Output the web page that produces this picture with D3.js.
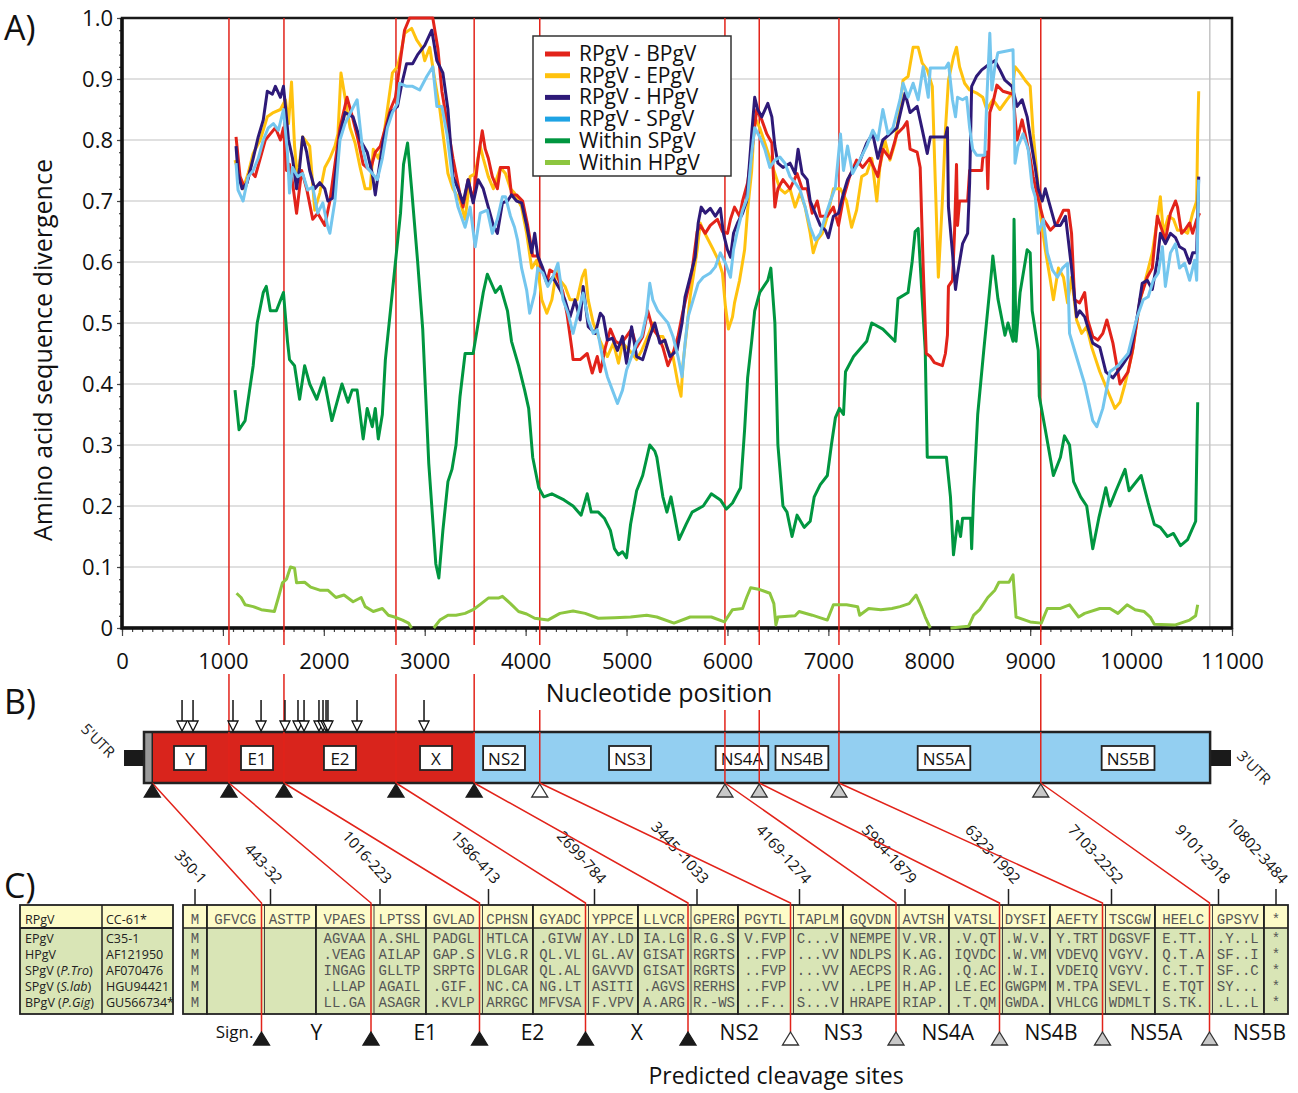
<!DOCTYPE html>
<html>
<head>
<meta charset="utf-8">
<script src="https://cdn.jsdelivr.net/npm/d3@7"></script>
<style>
  body { margin: 0; background: #fff; }
</style>
</head>
<body>
<svg id="fig" width="1298" height="1093" font-family='"Open Sans", "Noto Sans", sans-serif'></svg>
<script>
// ---------- panel A: sliding window divergence, [nucleotide, divergence] ----------
const rpgvBpgv = [[1130,.805],[1170,.74],[1220,.72],[1270,.75],[1320,.74],[1370,.77],[1420,.80],[1470,.81],[1520,.82],[1570,.80],[1600,.82],[1630,.75],[1660,.76],[1690,.73],[1730,.68],[1780,.75],[1830,.72],[1890,.67],[1940,.68],[2010,.66],[2060,.70],[2110,.76],[2160,.82],[2230,.87],[2280,.84],[2340,.80],[2390,.76],[2460,.75],[2510,.78],[2560,.79],[2610,.82],[2660,.85],[2710,.87],[2750,.92],[2800,.98],[2850,1.0],[3080,1.0],[3130,.95],[3170,.88],[3220,.83],[3280,.77],[3350,.71],[3380,.69],[3430,.735],[3480,.70],[3530,.77],[3570,.815],[3600,.785],[3630,.77],[3670,.74],[3720,.72],[3750,.755],[3830,.755],[3860,.71],[3910,.71],[3970,.70],[4020,.66],[4070,.61],[4120,.61],[4160,.59],[4210,.565],[4240,.587],[4310,.58],[4370,.55],[4410,.515],[4460,.455],[4470,.44],[4540,.44],[4610,.45],[4660,.418],[4710,.445],[4740,.42],[4790,.46],[4840,.49],[4890,.47],[4940,.465],[5000,.478],[5050,.49],[5100,.46],[5160,.478],[5210,.52],[5260,.49],[5310,.48],[5360,.46],[5410,.43],[5460,.45],[5510,.478],[5560,.52],[5610,.555],[5650,.587],[5700,.65],[5730,.66],[5780,.647],[5830,.66],[5900,.67],[5950,.65],[6000,.647],[6030,.67],[6070,.69],[6120,.675],[6150,.70],[6200,.73],[6240,.78],[6290,.85],[6340,.833],[6390,.81],[6440,.795],[6470,.69],[6500,.72],[6550,.735],[6620,.72],[6690,.745],[6740,.72],[6790,.72],[6840,.68],[6890,.70],[6920,.675],[6990,.675],[7050,.69],[7100,.66],[7150,.705],[7210,.74],[7280,.767],[7340,.755],[7410,.77],[7490,.74],[7540,.785],[7610,.77],[7680,.81],[7740,.82],[7780,.83],[7810,.785],[7880,.78],[7910,.755],[7940,.59],[7970,.45],[8010,.445],[8050,.435],[8130,.43],[8160,.45],[8180,.48],[8190,.56],[8230,.57],[8250,.647],[8270,.76],[8280,.66],[8300,.70],[8380,.70],[8400,.75],[8520,.75],[8530,.77],[8570,.78],[8580,.72],[8600,.845],[8630,.86],[8670,.89],[8730,.88],[8830,.875],[8870,.80],[8920,.833],[8950,.81],[9000,.77],[9030,.74],[9070,.71],[9100,.69],[9130,.67],[9170,.66],[9200,.652],[9270,.664],[9330,.685],[9380,.685],[9410,.647],[9440,.538],[9490,.533],[9540,.55],[9570,.505],[9620,.478],[9670,.472],[9720,.483],[9760,.505],[9820,.467],[9890,.40],[9970,.42],[10020,.46],[10090,.54],[10160,.575],[10210,.59],[10260,.675],[10290,.66],[10340,.636],[10390,.68],[10440,.70],[10460,.69],[10500,.647],[10530,.652],[10580,.664],[10610,.647],[10650,.67],[10680,.68]];

const rpgvEpgv = [[1120,.767],[1150,.75],[1200,.72],[1250,.745],[1300,.778],[1370,.80],[1440,.838],[1500,.845],[1570,.85],[1620,.866],[1650,.827],[1680,.895],[1710,.79],[1740,.735],[1790,.805],[1860,.79],[1910,.685],[1960,.713],[2010,.755],[2060,.77],[2110,.79],[2140,.81],[2170,.91],[2210,.87],[2260,.82],[2310,.795],[2360,.755],[2410,.72],[2460,.72],[2490,.785],[2540,.77],[2580,.79],[2630,.85],[2680,.91],[2730,.92],[2770,.948],[2800,.975],[2870,.983],[2920,.964],[2970,.952],[3000,.93],[3050,.952],[3100,.898],[3150,.85],[3200,.785],[3230,.745],[3280,.72],[3350,.70],[3400,.67],[3450,.74],[3500,.745],[3550,.79],[3580,.77],[3630,.74],[3680,.72],[3750,.755],[3800,.745],[3850,.72],[3890,.713],[3960,.69],[4010,.647],[4060,.59],[4110,.603],[4160,.538],[4210,.516],[4260,.538],[4310,.59],[4340,.57],[4390,.56],[4440,.538],[4510,.538],[4560,.575],[4590,.587],[4620,.538],[4670,.50],[4740,.47],[4810,.445],[4870,.467],[4920,.434],[4960,.467],[5030,.455],[5100,.44],[5150,.455],[5210,.478],[5260,.50],[5310,.478],[5360,.478],[5410,.455],[5460,.445],[5510,.40],[5540,.38],[5560,.434],[5600,.494],[5630,.543],[5660,.575],[5700,.62],[5730,.664],[5760,.652],[5810,.636],[5860,.62],[5910,.603],[5950,.582],[5980,.527],[6010,.49],[6050,.51],[6070,.533],[6120,.57],[6170,.62],[6200,.685],[6240,.75],[6270,.838],[6320,.82],[6370,.795],[6420,.77],[6470,.745],[6520,.72],[6570,.713],[6620,.72],[6670,.69],[6720,.713],[6770,.69],[6820,.647],[6850,.615],[6890,.636],[6940,.647],[6990,.675],[7050,.72],[7120,.72],[7180,.70],[7230,.657],[7280,.685],[7330,.74],[7380,.745],[7430,.77],[7480,.70],[7510,.755],[7560,.80],[7610,.767],[7660,.795],[7710,.855],[7740,.898],[7790,.904],[7840,.952],[7890,.952],[7930,.926],[7980,.915],[8030,.888],[8060,.73],[8090,.575],[8130,.70],[8160,.816],[8190,.898],[8240,.936],[8270,.952],[8300,.92],[8350,.893],[8400,.882],[8470,.877],[8530,.87],[8570,.85],[8630,.866],[8700,.85],[8770,.866],[8820,.877],[8850,.92],[8900,.91],[8950,.898],[9000,.888],[9030,.81],[9070,.74],[9100,.68],[9150,.62],[9200,.57],[9230,.538],[9280,.59],[9330,.575],[9370,.533],[9410,.575],[9460,.505],[9510,.483],[9560,.494],[9610,.46],[9690,.42],[9790,.38],[9840,.36],[9890,.37],[9940,.40],[10010,.45],[10090,.538],[10160,.582],[10210,.615],[10260,.67],[10290,.707],[10320,.647],[10370,.675],[10420,.67],[10460,.652],[10510,.652],[10560,.647],[10610,.68],[10650,.70],[10660,.81],[10670,.88]];

const rpgvHpgv = [[1130,.79],[1150,.745],[1190,.72],[1240,.73],[1300,.77],[1350,.805],[1400,.833],[1440,.88],[1490,.875],[1520,.888],[1570,.87],[1600,.888],[1620,.855],[1650,.80],[1690,.77],[1730,.72],[1760,.755],[1790,.805],[1830,.78],[1860,.75],[1910,.72],[1960,.73],[2010,.72],[2040,.70],[2090,.705],[2160,.81],[2210,.845],[2290,.838],[2360,.80],[2430,.78],[2480,.745],[2510,.71],[2540,.745],[2590,.80],[2660,.845],[2730,.855],[2770,.89],[2820,.925],[2880,.925],[2930,.94],[3000,.955],[3070,.98],[3120,.93],[3180,.91],[3230,.85],[3280,.74],[3330,.72],[3380,.697],[3430,.735],[3480,.697],[3530,.735],[3580,.72],[3630,.69],[3680,.66],[3720,.647],[3770,.697],[3820,.70],[3860,.71],[3910,.70],[3960,.697],[4010,.66],[4060,.615],[4090,.647],[4120,.61],[4170,.59],[4220,.565],[4270,.575],[4340,.555],[4390,.538],[4440,.51],[4490,.538],[4540,.505],[4570,.56],[4620,.494],[4690,.483],[4740,.516],[4770,.51],[4810,.472],[4860,.475],[4910,.455],[4960,.478],[5000,.434],[5050,.494],[5100,.445],[5160,.44],[5230,.478],[5280,.50],[5330,.467],[5380,.472],[5430,.445],[5500,.455],[5550,.50],[5580,.543],[5630,.575],[5680,.608],[5710,.664],[5740,.69],[5780,.68],[5830,.688],[5880,.675],[5930,.688],[5960,.647],[6000,.62],[6030,.608],[6060,.647],[6100,.664],[6150,.68],[6190,.70],[6240,.81],[6270,.87],[6300,.85],[6340,.838],[6400,.86],[6440,.838],[6470,.79],[6500,.762],[6550,.755],[6620,.762],[6670,.745],[6700,.785],[6740,.745],[6790,.735],[6820,.70],[6870,.68],[6920,.66],[6970,.652],[7000,.64],[7050,.675],[7100,.68],[7150,.713],[7190,.735],[7240,.75],[7310,.765],[7380,.795],[7440,.81],[7490,.77],[7540,.80],[7610,.81],[7680,.82],[7760,.877],[7810,.845],[7880,.855],[7930,.817],[7980,.778],[8010,.805],[8160,.805],[8180,.82],[8190,.69],[8230,.615],[8260,.555],[8280,.58],[8330,.63],[8380,.647],[8400,.73],[8420,.888],[8470,.905],[8520,.915],[8600,.925],[8650,.93],[8700,.915],[8750,.898],[8820,.888],[8870,.855],[8920,.866],[8970,.838],[9020,.785],[9050,.755],[9080,.72],[9120,.70],[9150,.72],[9200,.69],[9250,.66],[9300,.66],[9350,.675],[9370,.647],[9410,.59],[9460,.51],[9490,.52],[9540,.51],[9590,.483],[9620,.467],[9690,.46],[9750,.42],[9820,.41],[9910,.43],[9990,.45],[10060,.51],[10110,.565],[10160,.57],[10210,.555],[10260,.603],[10290,.647],[10340,.63],[10390,.647],[10440,.64],[10480,.625],[10530,.62],[10580,.598],[10610,.615],[10650,.615],[10670,.74]];

const rpgvSpgv = [[1130,.762],[1150,.718],[1200,.70],[1250,.74],[1300,.75],[1350,.77],[1400,.80],[1450,.82],[1500,.827],[1550,.816],[1600,.85],[1640,.778],[1660,.713],[1690,.755],[1740,.74],[1790,.745],[1840,.718],[1890,.723],[1940,.68],[1990,.697],[2040,.657],[2060,.647],[2110,.70],[2160,.80],[2210,.827],[2280,.85],[2330,.866],[2380,.79],[2430,.755],[2480,.745],[2530,.735],[2580,.77],[2630,.82],[2680,.845],[2730,.86],[2750,.893],[2820,.888],[2880,.888],[2950,.882],[3020,.904],[3080,.92],[3120,.855],[3170,.855],[3220,.81],[3280,.73],[3330,.69],[3400,.657],[3450,.69],[3500,.625],[3550,.68],[3620,.685],[3670,.647],[3720,.67],[3770,.707],[3800,.707],[3850,.675],[3890,.657],[3920,.636],[3960,.59],[4010,.554],[4040,.516],[4090,.549],[4120,.59],[4170,.582],[4220,.56],[4270,.575],[4320,.598],[4370,.538],[4420,.516],[4470,.483],[4520,.516],[4570,.549],[4620,.505],[4670,.483],[4710,.489],[4760,.445],[4810,.412],[4860,.39],[4910,.368],[4960,.39],[5000,.423],[5050,.445],[5100,.467],[5150,.478],[5200,.516],[5230,.565],[5260,.538],[5310,.52],[5360,.51],[5410,.50],[5460,.478],[5510,.445],[5550,.412],[5580,.467],[5610,.51],[5660,.538],[5710,.565],[5760,.575],[5830,.582],[5880,.592],[5930,.615],[5980,.598],[6030,.575],[6060,.62],[6100,.652],[6150,.685],[6200,.707],[6240,.778],[6270,.82],[6320,.805],[6370,.785],[6420,.755],[6470,.767],[6520,.772],[6570,.762],[6620,.74],[6670,.73],[6720,.718],[6770,.69],[6820,.657],[6870,.636],[6920,.647],[6970,.675],[7020,.70],[7070,.723],[7120,.81],[7150,.75],[7190,.79],[7240,.745],[7310,.767],[7380,.79],[7440,.816],[7490,.80],[7540,.85],[7590,.81],[7640,.82],[7710,.866],[7740,.893],[7790,.87],[7840,.893],[7890,.866],[7940,.92],[7990,.87],[8010,.918],[8160,.918],[8190,.926],[8230,.866],[8260,.838],[8280,.87],[8330,.866],[8370,.87],[8400,.82],[8430,.785],[8470,.775],[8550,.775],[8570,.866],[8600,.975],[8620,.882],[8650,.92],[8680,.943],[8830,.948],[8850,.762],[8880,.79],[8930,.81],[8980,.785],[9020,.723],[9050,.707],[9080,.647],[9130,.67],[9170,.615],[9220,.587],[9270,.575],[9320,.59],[9370,.598],[9390,.483],[9440,.455],[9540,.40],[9620,.34],[9660,.33],[9720,.36],[9790,.42],[9870,.43],[9970,.45],[10060,.51],[10120,.538],[10170,.543],[10220,.57],[10270,.582],[10310,.625],[10340,.56],[10390,.615],[10440,.63],[10480,.59],[10530,.598],[10580,.57],[10630,.603],[10650,.57],[10670,.735]];

const withinSpgv = [[1120,.39],[1160,.325],[1220,.34],[1260,.385],[1300,.43],[1340,.50],[1400,.55],[1430,.56],[1470,.52],[1530,.52],[1600,.55],[1640,.47],[1660,.44],[1710,.43],[1760,.375],[1810,.43],[1860,.40],[1930,.375],[2000,.41],[2080,.34],[2130,.37],[2180,.40],[2240,.37],[2280,.39],[2330,.39],[2390,.31],[2430,.36],[2480,.33],[2510,.36],[2540,.31],[2580,.35],[2610,.44],[2660,.52],[2710,.60],[2760,.68],[2790,.76],[2830,.795],[2870,.72],[2930,.60],[2980,.49],[3040,.27],[3110,.105],[3140,.082],[3180,.16],[3230,.24],[3270,.26],[3310,.30],[3350,.38],[3400,.45],[3480,.45],[3520,.49],[3580,.55],[3620,.58],[3700,.55],[3750,.56],[3820,.52],[3860,.47],[3930,.43],[3990,.39],[4030,.36],[4070,.28],[4130,.23],[4180,.215],[4260,.22],[4320,.215],[4380,.21],[4470,.20],[4550,.185],[4610,.22],[4650,.19],[4720,.19],[4780,.18],[4840,.16],[4880,.13],[4920,.12],[4960,.125],[5000,.115],[5040,.17],[5100,.225],[5160,.25],[5230,.30],[5280,.29],[5300,.28],[5360,.215],[5400,.19],[5440,.215],[5520,.145],[5590,.17],[5650,.19],[5760,.20],[5840,.22],[5930,.21],[5990,.195],[6050,.205],[6130,.23],[6170,.325],[6200,.41],[6240,.47],[6270,.52],[6320,.55],[6400,.57],[6430,.59],[6470,.50],[6500,.30],[6550,.20],[6590,.19],[6640,.15],[6690,.185],[6760,.165],[6820,.175],[6860,.215],[6920,.235],[6990,.25],[7030,.30],[7070,.345],[7110,.36],[7150,.35],[7170,.42],[7250,.445],[7380,.47],[7430,.50],[7540,.49],[7660,.47],[7690,.54],[7790,.55],[7830,.60],[7860,.65],[7890,.655],[7930,.54],[7960,.455],[7980,.28],[8170,.28],[8210,.215],[8240,.12],[8280,.175],[8310,.15],[8330,.18],[8410,.18],[8420,.13],[8440,.22],[8480,.35],[8540,.455],[8620,.59],[8630,.61],[8680,.54],[8750,.48],[8780,.50],[8830,.47],[8840,.67],[8860,.47],[8900,.55],[8970,.62],[9000,.615],[9020,.52],[9080,.455],[9090,.38],[9150,.325],[9230,.25],[9300,.28],[9340,.315],[9390,.30],[9430,.24],[9500,.215],[9560,.20],[9620,.13],[9680,.18],[9750,.23],[9790,.20],[9850,.225],[9940,.26],[9980,.225],[10100,.25],[10170,.205],[10230,.17],[10290,.165],[10360,.15],[10420,.155],[10490,.135],[10560,.145],[10600,.16],[10640,.175],[10660,.37]];

const withinHpgv = [[1135,.057],[1180,.05],[1220,.038],[1300,.035],[1380,.03],[1510,.027],[1550,.05],[1590,.074],[1630,.08],[1670,.10],[1710,.098],[1730,.074],[1810,.075],[1870,.067],[1960,.062],[2040,.062],[2120,.05],[2200,.054],[2290,.043],[2370,.05],[2410,.035],[2490,.027],[2580,.032],[2640,.021],[2700,.018],[2780,.013],[2840,.008],[2870,0],[2980,null],[3090,0],[3150,.013],[3230,.021],[3310,.021],[3400,.024],[3480,.03],[3560,.04],[3630,.049],[3730,.049],[3770,.052],[3850,.04],[3930,.027],[4010,.023],[4090,.016],[4220,.013],[4340,.024],[4470,.028],[4590,.024],[4720,.016],[4880,.017],[5040,.018],[5200,.021],[5300,.018],[5470,.008],[5630,.018],[5840,.018],[5970,.01],[6050,.03],[6150,.032],[6190,.05],[6230,.066],[6320,.063],[6420,.057],[6460,.04],[6480,.005],[6500,.018],[6670,.02],[6710,.027],[6840,.021],[6990,.013],[7050,.038],[7180,.038],[7290,.035],[7310,.021],[7400,.032],[7520,.03],[7630,.032],[7710,.035],[7800,.04],[7870,.054],[7920,.035],[7960,.018],[8010,0],[8100,null],[8210,0],[8390,.003],[8440,.021],[8500,.03],[8580,.05],[8650,.062],[8690,.075],[8790,.075],[8830,.087],[8860,.018],[9000,.01],[9110,.008],[9170,.032],[9300,.032],[9390,.038],[9480,.018],[9540,.024],[9690,.032],[9790,.032],[9870,.024],[9960,.038],[10040,.03],[10130,.027],[10190,.018],[10230,.006],[10440,.005],[10580,.013],[10640,.02],[10660,.038]];

const seriesLabels = ['RPgV - BPgV', 'RPgV - EPgV', 'RPgV - HPgV', 'RPgV - SPgV', 'Within SPgV', 'Within HPgV'];
const xTicks = [0, 1000, 2000, 3000, 4000, 5000, 6000, 7000, 8000, 9000, 10000, 11000];
const yTicks = [0, 0.1, 0.2, 0.3, 0.4, 0.5, 0.6, 0.7, 0.8, 0.9, 1.0];
const windowEndNt = 10780;

// ---------- panel B: genome map ----------
const siteNt = [300, 1060, 1605, 2715, 3490, 4140, 5975, 6315, 7105, 9105];
const siteKind = ['host', 'host', 'host', 'host', 'host', 'auto', 'ns3', 'ns3', 'ns3', 'ns3'];
const genes = ['Y', 'E1', 'E2', 'X', 'NS2', 'NS3', 'NS4A', 'NS4B', 'NS5A', 'NS5B'];
const geneMidNt = [674, 1338, 2160, 3112, 3786, 5034, 6144, 6738, 8146, 9970];
const glycoNt = [595, 704, 1100, 1378, 1615, 1744, 1804, 1952, 1992, 2022, 2041, 2329, 2993];
const genomeParts = [[218, 300], [300, 3490], [3490, 10783]];
const utrParts = [[20, 218], [10783, 10990]];

// ---------- panel C: alignment around cleavage sites ----------
const cleavageLabels = ['350-1', '443-32', '1016-223', '1586-413', '2699-784', '3445 -1033', '4169-1274',
  '5984-1879', '6323-1992', '7103-2252', '9101-2918', '10802-3484'];
const regionLabels = ['Sign.', 'Y', 'E1', 'E2', 'X', 'NS2', 'NS3', 'NS4A', 'NS4B', 'NS5A', 'NS5B'];
const taxa = [['RPgV', ''], ['EPgV', ''], ['HPgV', ''], ['SPgV (', 'P.Tro'], ['SPgV (', 'S.lab'], ['BPgV (', 'P.Gig']];
const accessions = ['CC-61*', 'C35-1', 'AF121950', 'AF070476', 'HGU94421', 'GU566734*'];
const alignment = [
  ['M', 'M', 'M', 'M', 'M', 'M'],
  ['GFVCG ASTTP', ' ', ' ', ' ', ' ', ' '],
  ['VPAES LPTSS', 'AGVAA A.SHL', '.VEAG AILAP', 'INGAG GLLTP', '.LLAP AGAIL', 'LL.GA ASAGR'],
  ['GVLAD CPHSN', 'PADGL HTLCA', 'GAP.S VLG.R', 'SRPTG DLGAR', '.GIF. NC.CA', '.KVLP ARRGC'],
  ['GYADC YPPCE', '.GIVW AY.LD', 'QL.VL GL.AV', 'QL.AL GAVVD', 'NG.LT ASITI', 'MFVSA F.VPV'],
  ['LLVCR GPERG', 'IA.LG R.G.S', 'GISAT RGRTS', 'GISAT RGRTS', '.AGVS RERHS', 'A.ARG R.-WS'],
  ['PGYTL TAPLM', 'V.FVP C...V', '..FVP ...VV', '..FVP ...VV', '..FVP ...VV', '..F.. S...V'],
  ['GQVDN AVTSH', 'NEMPE V.VR.', 'NDLPS K.AG.', 'AECPS R.AG.', '..LPE H.AP.', 'HRAPE RIAP.'],
  ['VATSL DYSFI', '.V.QT .W.V.', 'IQVDC .W.VM', '.Q.AC .W.I.', 'LE.EC GWGPM', '.T.QM GWDA.'],
  ['AEFTY TSCGW', 'Y.TRT DGSVF', 'VDEVQ VGYV.', 'VDEIQ VGYV.', 'M.TPA SEVL.', 'VHLCG WDMLT'],
  ['HEELC GPSYV', 'E.TT. .Y..L', 'Q.T.A SF..I', 'C.T.T SF..C', 'E.TQT SY...', 'S.TK. .L..L'],
  ['*', '*', '*', '*', '*', '*']
];

// ---------- drawing ----------
const svg = d3.select('#fig');
const RED = '#e2231a';
const MONO = '"Liberation Mono", "DejaVu Sans Mono", monospace';
const colors = ['#e2231a', '#ffc20e', '#2e1a78', '#74c6ee', '#009640', '#8dc63f'];
const series = [rpgvBpgv, rpgvEpgv, rpgvHpgv, rpgvSpgv, withinSpgv, withinHpgv];

const x = d3.scaleLinear().domain([0, 11000]).range([122, 1232]);
const y = d3.scaleLinear().domain([0, 1]).range([628, 18]);

// panel letters
[['A)', 40], ['B)', 714], ['C)', 898]].forEach(([t, yy]) =>
  svg.append('text').attr('x', 4).attr('y', yy).attr('font-size', 34).attr('fill', '#111').text(t));

// grid
const gA = svg.append('g');
gA.selectAll('line.grid').data(yTicks.filter(d => d > 0 && d < 1)).join('line')
  .attr('x1', x(0)).attr('x2', x(11000))
  .attr('y1', d => y(d)).attr('y2', d => y(d))
  .attr('stroke', '#d6d6d6').attr('stroke-width', 1.3);
gA.append('line').attr('x1', x(windowEndNt)).attr('x2', x(windowEndNt))
  .attr('y1', y(1)).attr('y2', y(0)).attr('stroke', '#c4c4c4').attr('stroke-width', 1.5);

// axes
const xAxis = svg.append('g').attr('transform', `translate(0,${y(0)})`)
  .call(d3.axisBottom(x).tickValues(xTicks).tickSize(8).tickPadding(17).tickFormat(d3.format('d')));
const xMinor = svg.append('g').attr('transform', `translate(0,${y(0)})`)
  .call(d3.axisBottom(x).tickValues(d3.range(0, 11001, 100)).tickSize(4).tickFormat(''));
const yAxis = svg.append('g').attr('transform', `translate(${x(0)},0)`)
  .call(d3.axisLeft(y).tickValues(yTicks).tickSize(5).tickPadding(4)
    .tickFormat(d => d === 0 ? '0' : d3.format('.1f')(d)));
const yMinor = svg.append('g').attr('transform', `translate(${x(0)},0)`)
  .call(d3.axisLeft(y).tickValues(d3.range(0, 1.001, 0.02)).tickSize(3).tickFormat(''));
[xAxis, xMinor, yAxis, yMinor].forEach(g => {
  g.attr('font-family', null).attr('font-size', null);
  g.select('.domain').remove();
  g.selectAll('line').attr('stroke', '#444').attr('stroke-width', 1.2);
  g.selectAll('text').attr('font-size', 22).attr('fill', '#111');
});

// frame
svg.append('rect').attr('x', x(0)).attr('y', y(1)).attr('width', x(11000) - x(0)).attr('height', y(0) - y(1))
  .attr('fill', 'none').attr('stroke', '#1a1a1a').attr('stroke-width', 2.5);
svg.append('path').attr('d', `M${x(0)},${y(1)}V${y(0)}H${x(11000)}`)
  .attr('fill', 'none').attr('stroke', '#111').attr('stroke-width', 3.5);

// axis titles
const xTitle = svg.append('text').attr('x', 659).attr('y', 702).attr('text-anchor', 'middle')
  .attr('font-size', 25).attr('fill', '#111').text('Nucleotide position');
svg.append('text').attr('transform', 'translate(52,350) rotate(-90)').attr('text-anchor', 'middle')
  .attr('font-size', 25).attr('fill', '#111').text('Amino acid sequence divergence');

// cleavage site lines through panel A and B
const titleBox = xTitle.node().getBBox();
const barTop = 732, barBot = 783;
siteNt.slice(1).forEach(nt => {
  const sx = x(nt);
  const underTitle = sx > titleBox.x - 10 && sx < titleBox.x + titleBox.width + 10;
  svg.append('line').attr('x1', sx).attr('x2', sx).attr('y1', y(1)).attr('y2', y(0) + 17)
    .attr('stroke', RED).attr('stroke-width', 1.5);
  svg.append('line').attr('x1', sx).attr('x2', sx).attr('y1', underTitle ? 710 : 674).attr('y2', barTop)
    .attr('stroke', RED).attr('stroke-width', 1.5);
});

// series
const line = d3.line().defined(d => d[1] != null).x(d => x(d[0])).y(d => y(d[1]));
[4, 5, 1, 0, 2, 3].forEach(i => {
  svg.append('path').datum(series[i]).attr('d', line)
    .attr('fill', 'none').attr('stroke', colors[i]).attr('stroke-width', 3)
    .attr('stroke-linejoin', 'round');
});

// legend
const lg = svg.append('g').attr('transform', 'translate(533,36)');
lg.append('rect').attr('width', 198).attr('height', 140).attr('fill', '#fff')
  .attr('stroke', '#333').attr('stroke-width', 1.5);
seriesLabels.forEach((s, i) => {
  const yy = 18 + i * 21.7;
  lg.append('line').attr('x1', 12).attr('x2', 37).attr('y1', yy).attr('y2', yy)
    .attr('stroke', i === 3 ? '#1ea3e4' : colors[i]).attr('stroke-width', 5);
  lg.append('text').attr('x', 46).attr('y', yy + 7).attr('font-size', 21).attr('fill', '#111').text(s);
});

// ---------- panel B ----------
const gB = svg.append('g');
gB.selectAll('rect.utr').data(utrParts).join('rect')
  .attr('x', d => x(d[0])).attr('width', d => x(d[1]) - x(d[0]))
  .attr('y', 750).attr('height', 16).attr('fill', '#1a1a1a');
const partFill = ['#9a9a9a', '#d9241c', '#93cff1'];
gB.selectAll('rect.part').data(genomeParts).join('rect')
  .attr('x', d => x(d[0])).attr('width', d => x(d[1]) - x(d[0]))
  .attr('y', barTop).attr('height', barBot - barTop).attr('fill', (d, i) => partFill[i]);
gB.append('rect').attr('x', x(genomeParts[0][0])).attr('width', x(genomeParts[2][1]) - x(genomeParts[0][0]))
  .attr('y', barTop).attr('height', barBot - barTop).attr('fill', 'none')
  .attr('stroke', '#222').attr('stroke-width', 2.5);
gB.append('line').attr('x1', x(300)).attr('x2', x(300)).attr('y1', barTop).attr('y2', barBot)
  .attr('stroke', '#222').attr('stroke-width', 1.5);

gB.append('text').attr('transform', 'translate(80,730) rotate(45)').attr('font-size', 15)
  .attr('fill', '#222').text("5'UTR");
gB.append('text').attr('transform', 'translate(1236,757) rotate(45)').attr('font-size', 15)
  .attr('fill', '#222').text("3'UTR");

// gene boxes
genes.forEach((g, i) => {
  const cx = x(geneMidNt[i]);
  const t = gB.append('text').attr('x', cx).attr('y', 765).attr('text-anchor', 'middle')
    .attr('font-size', 17).attr('fill', '#111').text(g);
  const w = Math.max(32, t.node().getComputedTextLength() + 10);
  gB.insert('rect', 'text').attr('x', cx - w / 2).attr('y', 746).attr('width', w).attr('height', 24)
    .attr('fill', '#fff').attr('stroke', '#222').attr('stroke-width', 1.8);
});

// glycosylation arrows
glycoNt.forEach(nt => {
  const ax = x(nt);
  gB.append('line').attr('x1', ax).attr('x2', ax).attr('y1', 700).attr('y2', 721)
    .attr('stroke', '#111').attr('stroke-width', 1.5);
  gB.append('path').attr('d', `M${ax - 5},721L${ax + 5},721L${ax},731Z`)
    .attr('fill', '#fff').attr('stroke', '#111').attr('stroke-width', 1.3);
});

// site lines inside bar (drawn on top of boxes)
siteNt.slice(1).forEach(nt => {
  gB.append('line').attr('x1', x(nt)).attr('x2', x(nt)).attr('y1', barTop).attr('y2', barBot)
    .attr('stroke', RED).attr('stroke-width', 1.5);
});

const triFill = { host: '#1a1a1a', auto: '#fff', ns3: '#c8c8c8' };
function triangle(g, cx, top, kind) {
  g.append('path').attr('d', `M${cx},${top}L${cx + 8},${top + 13}L${cx - 8},${top + 13}Z`)
    .attr('fill', triFill[kind]).attr('stroke', kind === 'host' ? '#1a1a1a' : '#333').attr('stroke-width', 1.3);
}

// ---------- panel C ----------
const gC = svg.append('g');
const tTop = 905, tHead = 928, tBot = 1014;
const rowY = d3.scaleLinear().domain([1, 5]).range([943, 1007]);
const rowBase = i => i === 0 ? 924 : rowY(i);
const headFill = '#fdfbc8', bodyFill = '#d9e5b6';

// left table
gC.append('rect').attr('x', 20).attr('y', tTop).attr('width', 153).attr('height', tHead - tTop).attr('fill', headFill);
gC.append('rect').attr('x', 20).attr('y', tHead).attr('width', 153).attr('height', tBot - tHead).attr('fill', bodyFill);
gC.append('rect').attr('x', 20).attr('y', tTop).attr('width', 153).attr('height', tBot - tTop)
  .attr('fill', 'none').attr('stroke', '#222').attr('stroke-width', 1.8);
gC.append('line').attr('x1', 20).attr('x2', 173).attr('y1', tHead).attr('y2', tHead).attr('stroke', '#222').attr('stroke-width', 1.8);
gC.append('line').attr('x1', 102).attr('x2', 102).attr('y1', tTop).attr('y2', tBot).attr('stroke', '#222').attr('stroke-width', 1.5);
taxa.forEach((t, i) => {
  const tx = gC.append('text').attr('x', 25).attr('y', rowBase(i)).attr('font-size', 12.5).attr('fill', '#222');
  tx.append('tspan').text(t[0]);
  if (t[1]) {
    tx.append('tspan').attr('font-style', 'italic').text(t[1]);
    tx.append('tspan').text(')');
  }
  gC.append('text').attr('x', 106).attr('y', rowBase(i)).attr('font-size', 12.5).attr('fill', '#222').text(accessions[i]);
});

// alignment blocks: column layout of the alignment table
const blockX = d3.scaleLinear().domain(d3.range(13))
  .range([183, 207, 316, 426, 533, 638, 738, 843, 949, 1050, 1155, 1264, 1288]);
alignment.forEach((block, b) => {
  const x0 = blockX(b), x1 = blockX(b + 1), sep = blockX(b + 0.5);
  gC.append('rect').attr('x', x0).attr('y', tTop).attr('width', x1 - x0).attr('height', tHead - tTop).attr('fill', headFill);
  gC.append('rect').attr('x', x0).attr('y', tHead).attr('width', x1 - x0).attr('height', tBot - tHead).attr('fill', bodyFill);
  if (block[0].includes(' ')) {
    gC.append('line').attr('x1', sep + 3).attr('x2', sep + 3).attr('y1', tTop).attr('y2', tBot)
      .attr('stroke', '#444').attr('stroke-width', 1);
  }
  block.forEach((s, r) => {
    const parts = s.split(' ');
    const yy = rowBase(r);
    const cell = (txt, cx) => gC.append('text').attr('x', cx).attr('y', yy).attr('text-anchor', 'middle')
      .attr('font-family', MONO).attr('font-size', 14).attr('fill', '#555').text(txt);
    if (parts.length === 2) {
      cell(parts[0], (x0 + sep) / 2 + 1);
      cell(parts[1], (sep + x1) / 2 + 1);
    } else {
      cell(s, (x0 + x1) / 2);
    }
  });
  gC.append('rect').attr('x', x0).attr('y', tTop).attr('width', x1 - x0).attr('height', tBot - tTop)
    .attr('fill', 'none').attr('stroke', '#222').attr('stroke-width', 1.8);
  gC.append('line').attr('x1', x0).attr('x2', x1).attr('y1', tHead).attr('y2', tHead)
    .attr('stroke', '#222').attr('stroke-width', 1.5);
});

// cleavage position ticks and labels above the alignment
cleavageLabels.forEach((lab, i) => {
  const tx = i === 0 ? blockX(0.5) : i === 11 ? blockX(11.5) : blockX(i + 0.5) + 9;
  gC.append('line').attr('x1', tx).attr('x2', tx).attr('y1', 889).attr('y2', tTop)
    .attr('stroke', '#222').attr('stroke-width', 1.5);
  gC.append('text').attr('transform', `translate(${tx + 5},885) rotate(48)`).attr('text-anchor', 'end')
    .attr('font-size', 15).attr('fill', '#111').text(lab);
});

// red connectors from genome map to alignment, with triangles
siteNt.forEach((nt, i) => {
  const bx = x(nt), cx = blockX(i + 1.5);
  svg.append('path').attr('d', `M${bx},${barBot}L${cx},${tTop - 2}L${cx},1032`)
    .attr('fill', 'none').attr('stroke', RED).attr('stroke-width', 1.5);
  triangle(svg, bx, barBot + 1, siteKind[i]);
  triangle(svg, cx, 1032, siteKind[i]);
});

// region labels under the alignment
regionLabels.forEach((r, i) => {
  if (i === 0) {
    gC.append('text').attr('x', blockX(1.5) - 8).attr('y', 1038).attr('text-anchor', 'end')
      .attr('font-size', 17).attr('fill', '#111').text(r);
    return;
  }
  const a = blockX(i + 0.5), b = i === 10 ? blockX(10.5) + 100 : blockX(i + 1.5);
  gC.append('text').attr('x', (a + b) / 2).attr('y', 1040).attr('text-anchor', 'middle')
    .attr('font-size', 21).attr('fill', '#111').text(r);
});
gC.append('text').attr('x', 776).attr('y', 1084).attr('text-anchor', 'middle')
  .attr('font-size', 23).attr('fill', '#111').text('Predicted cleavage sites');
</script>
</body>
</html>
